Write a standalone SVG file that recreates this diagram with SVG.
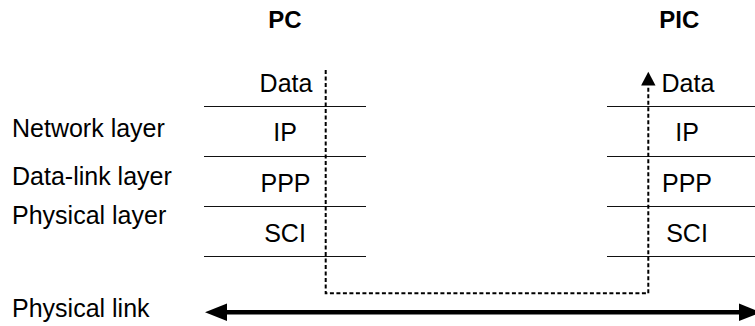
<svg xmlns="http://www.w3.org/2000/svg" width="755" height="326" viewBox="0 0 755 326">
<style>
text{font-family:"Liberation Sans",Arial,sans-serif;font-size:25px;fill:#000}
.h{font-weight:bold;font-size:24px}
.c{text-anchor:middle}
.rule{stroke:#111;stroke-width:1.2}
.dash{fill:none;stroke:#000;stroke-width:2;stroke-dasharray:4,2.5}
</style>
<rect width="755" height="326" fill="#fff"/>
<g id="labels">
<text x="12" y="137">Network layer</text>
<text x="12" y="185">Data-link layer</text>
<text x="12" y="224">Physical layer</text>
<text x="12" y="317">Physical link</text>
</g>
<g id="pc">
<text class="h c" x="285" y="28.3">PC</text>
<text class="c" x="286" y="92">Data</text>
<text class="c" x="285" y="141">IP</text>
<text class="c" x="285.5" y="191.5">PPP</text>
<text class="c" x="285" y="241.5">SCI</text>
<line class="rule" x1="204" y1="106.5" x2="366" y2="106.5"/>
<line class="rule" x1="204" y1="156.5" x2="366" y2="156.5"/>
<line class="rule" x1="204" y1="206.5" x2="366" y2="206.5"/>
<line class="rule" x1="204" y1="256.5" x2="366" y2="256.5"/>
</g>
<g id="pic">
<text class="h c" x="679.3" y="28.3">PIC</text>
<text x="661.5" y="92">Data</text>
<text class="c" x="687" y="141">IP</text>
<text class="c" x="687" y="191.5">PPP</text>
<text class="c" x="687" y="241.5">SCI</text>
<line class="rule" x1="607" y1="106.5" x2="755" y2="106.5"/>
<line class="rule" x1="607" y1="156.5" x2="755" y2="156.5"/>
<line class="rule" x1="607" y1="206.5" x2="755" y2="206.5"/>
<line class="rule" x1="607" y1="256.5" x2="755" y2="256.5"/>
</g>
<g id="connectors">
<path class="dash" d="M325.7,70V293.3H648.3V86"/>
<path d="M648.3,71.7L655.5,85.5H641.1z" fill="#000"/>
<line x1="226" y1="312.3" x2="740" y2="312.3" stroke="#000" stroke-width="4.5"/>
<path d="M205,312.3L227,303.5V321.1z" fill="#000"/>
<path d="M761,312.3L739,303.5V321.1z" fill="#000"/>
</g>
</svg>
